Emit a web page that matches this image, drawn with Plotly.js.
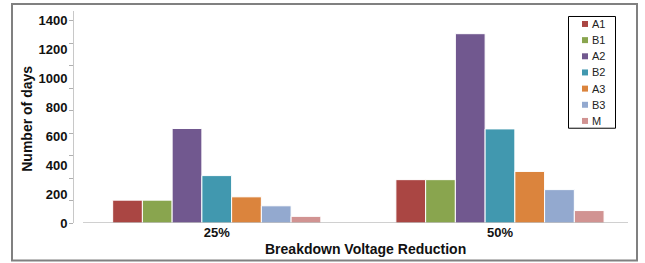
<!DOCTYPE html>
<html><head><meta charset="utf-8">
<script src="https://cdn.plot.ly/plotly-3.0.1.min.js"></script>
<style>html,body{margin:0;padding:0;background:#fff;}#chart{width:645px;height:263px;}</style>
</head><body><div id="chart"></div>
<script>
const categories = ["25%", "50%"];
const seriesNames = ["A1", "B1", "A2", "B2", "A3", "B3", "M"];
const A1 = [158, 300];
const B1 = [158, 300];
const A2 = [654, 1310];
const B2 = [328, 651];
const A3 = [181, 357];
const B3 = [119, 231];
const M  = [46, 86];
const seriesValues = [A1, B1, A2, B2, A3, B3, M];
const colors = ["#AA4643", "#89A54E", "#71588F", "#4198AF", "#DB843D", "#93A9CF", "#D19392"];
const yTickVals = [0, 200, 400, 600, 800, 1000, 1200, 1400];
const yTickText = ["0", "200", "400", "600", "800", "1000", "1200", "1400"];

const traces = seriesNames.map((n, i) => ({
  type: "bar", name: n, x: categories, y: seriesValues[i], showlegend: false,
  marker: {color: colors[i], line: {color: "#ffffff", width: 1}}
}));

const font = "Liberation Sans, Arial, sans-serif";
// plot area in pixels: left 74, right 628, top 11, bottom 223.5
const PL = 74, PR = 628, PT = 11, PB = 223.5;
const px = x => (x - PL) / (PR - PL);
const py = y => (PB - y) / (PB - PT);

const shapes = [
  {type: "line", xref: "paper", yref: "y", x0: px(83), x1: 1, y0: 0, y1: 0, line: {color: "#a0a0a0", width: 1}},
  {type: "rect", xref: "paper", yref: "paper", x0: px(12), x1: px(637), y0: py(261), y1: py(4),
    line: {color: "#808080", width: 2}, fillcolor: "rgba(0,0,0,0)", layer: "below"},
  {type: "rect", xref: "paper", yref: "paper", x0: px(568.5), x1: px(615.5), y0: py(128.5), y1: py(16.5),
    line: {color: "#000000", width: 1}, fillcolor: "#ffffff", layer: "above"}
];
const annotations = [
  {text: "Breakdown Voltage Reduction", xref: "paper", yref: "paper", x: px(365), y: py(250),
    xanchor: "center", yanchor: "middle", showarrow: false,
    font: {family: font, size: 14, color: "#111", weight: "bold"}},
  {text: "Number of days", xref: "paper", yref: "paper", x: px(27), y: py(119), textangle: -90,
    xanchor: "center", yanchor: "middle", showarrow: false,
    font: {family: font, size: 14, color: "#111", weight: "bold"}}
];
seriesNames.forEach((n, i) => {
  const cy = 24 + i * 16.2;
  shapes.push({type: "rect", xref: "paper", yref: "paper", x0: px(582), x1: px(588), y0: py(cy + 3), y1: py(cy - 3),
    line: {width: 0}, fillcolor: colors[i], layer: "above"});
  annotations.push({text: n, xref: "paper", yref: "paper", x: px(590), y: py(cy), xanchor: "left", yanchor: "middle",
    showarrow: false, font: {family: font, size: 11, color: "#222"}});
});

const layout = {
  width: 645, height: 263,
  margin: {l: PL, r: 645 - PR, t: PT, b: 263 - PB, pad: 0},
  paper_bgcolor: "#ffffff", plot_bgcolor: "#ffffff",
  barmode: "group", bargap: 0.265, bargroupgap: 0,
  showlegend: false,
  xaxis: {type: "category", range: [-0.504, 1.452], showline: false, showgrid: false, zeroline: false,
    ticks: "", tickfont: {family: font, size: 13, color: "#111", weight: "bold"}},
  yaxis: {range: [0, 1467], showgrid: false, zeroline: false, showline: true, linecolor: "#c8c8c8", linewidth: 1,
    tickmode: "array", tickvals: yTickVals, ticktext: yTickText, ticks: "",
    ticklabelstandoff: 3,
    tickfont: {family: font, size: 13, color: "#111", weight: "bold"},
    minor: {tickmode: "linear", tick0: 0, dtick: 1400/9, ticks: "outside", ticklen: 4, tickcolor: "#b0b0b0", showgrid: false}},
  shapes: shapes,
  annotations: annotations
};
Plotly.newPlot("chart", traces, layout, {displayModeBar: false, staticPlot: true});
</script></body></html>
